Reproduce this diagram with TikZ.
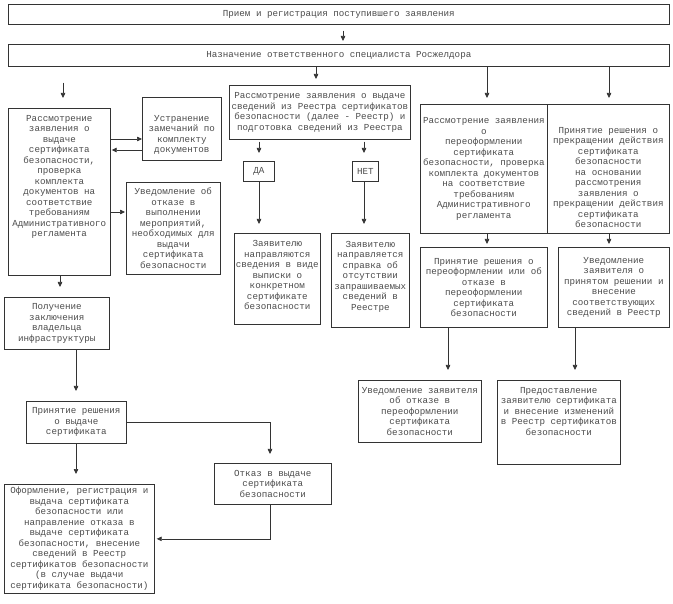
\documentclass[tikz,border=0pt]{standalone}
\usepackage{fontspec}
\setmainfont{Liberation Mono}
\usetikzlibrary{arrows.meta}
\begin{document}
\begin{tikzpicture}[x=1pt,y=-1pt,
  font=\fontsize{9.2}{10.5}\selectfont,
  box/.style={draw=black!80, line width=0.7pt, anchor=north west, align=center, inner sep=1pt, text=black!70},
  arr/.style={draw=black!80, line width=0.7pt, -{Triangle[width=4.5pt,length=5pt]}},
]
\path[use as bounding box, fill=white] (0,0) rectangle (673,604);

% x / y guide coordinates
\coordinate (xA) at (343,0);
\coordinate (xB) at (63,0);
\coordinate (xC) at (316,0);
\coordinate (xD) at (487,0);
\coordinate (xE) at (609,0);
\coordinate (xDa) at (259,0);
\coordinate (xNet) at (364,0);
\coordinate (xR2a) at (448,0);
\coordinate (xR2b) at (575,0);
\coordinate (xL1) at (60,0);
\coordinate (xL) at (76,0);
\coordinate (xK) at (270,0);
\coordinate (yF) at (0,139);
\coordinate (yG) at (0,150);
\coordinate (yH) at (0,212);

% boxes
\node[box, minimum width=661pt, minimum height=20pt] (b1) at (8,4) {Прием и регистрация поступившего заявления};
\node[box, minimum width=661pt, minimum height=22pt] (b2) at (8,44) {Назначение ответственного специалиста Росжелдора};

\node[box, minimum width=102pt, minimum height=167pt, text depth=32pt] (l1) at (8,108)
  {Рассмотрение\\заявления о\\выдаче\\сертификата\\безопасности,\\проверка\\комплекта\\документов на\\соответствие\\требованиям\\Административного\\регламента};
\node[box, minimum width=79pt, minimum height=63pt, text height=50pt] (ustr) at (142,97)
  {Устранение\\замечаний по\\комплекту\\документов};
\node[box, minimum width=94pt, minimum height=92pt] (uved) at (126,182)
  {Уведомление об\\отказе в\\выполнении\\мероприятий,\\необходимых для\\выдачи\\сертификата\\безопасности};

\node[box, minimum width=181pt, minimum height=54pt] (mid) at (229,85)
  {Рассмотрение заявления о выдаче\\сведений из Реестра сертификатов\\безопасности (далее - Реестр) и\\подготовка сведений из Реестра};
\node[box, minimum width=31pt, minimum height=20pt] (da) at (243,161) {ДА};
\node[box, minimum width=26pt, minimum height=20pt] (net) at (352,161) {НЕТ};
\node[box, minimum width=86pt, minimum height=91pt, text depth=7pt] (m1) at (234,233)
  {Заявителю\\направляются\\сведения в виде\\выписки о\\конкретном\\сертификате\\безопасности};
\node[box, minimum width=78pt, minimum height=94pt, text depth=9pt] (m2) at (331,233)
  {Заявителю\\направляется\\справка об\\отсутствии\\запрашиваемых\\сведений в\\Реестре};

\node[box, minimum width=127pt, minimum height=129pt] (r1a) at (420,104)
  {Рассмотрение заявления\\о\\переоформлении\\сертификата\\безопасности, проверка\\комплекта документов\\на соответствие\\требованиям\\Административного\\регламента};
\node[box, minimum width=122pt, minimum height=129pt, text height=118pt] (r1b) at (547,104)
  {Принятие решения о\\прекращении действия\\сертификата\\безопасности\\на основании\\рассмотрения\\заявления о\\прекращении действия\\сертификата\\безопасности};
\node[box, minimum width=127pt, minimum height=80pt] (r2a) at (420,247)
  {Принятие решения о\\переоформлении или об\\отказе в\\переоформлении\\сертификата\\безопасности};
\node[box, minimum width=111pt, minimum height=80pt] (r2b) at (558,247)
  {Уведомление\\заявителя о\\принятом решении и\\внесение\\соответствующих\\сведений в Реестр};
\node[box, minimum width=123pt, minimum height=62pt] (r3a) at (358,380)
  {Уведомление заявителя\\об отказе в\\переоформлении\\сертификата\\безопасности};
\node[box, minimum width=123pt, minimum height=84pt, text depth=22pt] (r3b) at (497,380)
  {Предоставление\\заявителю сертификата\\и внесение изменений\\в Реестр сертификатов\\безопасности};

\node[box, minimum width=105pt, minimum height=52pt] (pol) at (4,297)
  {Получение\\заключения\\владельца\\инфраструктуры};
\node[box, minimum width=100pt, minimum height=42pt] (prin) at (26,401)
  {Принятие решения\\о выдаче\\сертификата};
\node[box, minimum width=117pt, minimum height=41pt] (otk) at (214,463)
  {Отказ в выдаче\\сертификата\\безопасности};
\node[box, minimum width=150pt, minimum height=109pt] (fin) at (4,484)
  {Оформление, регистрация и\\выдача сертификата\\безопасности или\\направление отказа в\\выдаче сертификата\\безопасности, внесение\\сведений в Реестр\\сертификатов безопасности\\(в случае выдачи\\сертификата безопасности)};

% connectors
\draw[arr, shorten <=6pt, shorten >=3pt] (b1.south -| xA) -- (b2.north -| xA);
\draw[arr, shorten <=16pt, shorten >=10pt] (b2.south -| xB) -- (l1.north -| xB);
\draw[arr, shorten >=6pt] (b2.south -| xC) -- (mid.north -| xC);
\draw[arr, shorten >=6pt] (b2.south -| xD) -- (r1a.north -| xD);
\draw[arr, shorten >=6pt] (b2.south -| xE) -- (r1b.north -| xE);

\draw[arr] (l1.east |- yF) -- (ustr.west |- yF);
\draw[arr, shorten >=1pt] (ustr.west |- yG) -- (l1.east |- yG);
\draw[arr, shorten >=1pt] (l1.east |- yH) -- (uved.west |- yH);

\draw[arr, shorten <=2pt, shorten >=8pt] (mid.south -| xDa) -- (da.north -| xDa);
\draw[arr, shorten <=2pt, shorten >=8pt] (mid.south -| xNet) -- (net.north -| xNet);
\draw[arr, shorten >=9pt] (da.south -| xDa) -- (m1.north -| xDa);
\draw[arr, shorten >=9pt] (net.south -| xNet) -- (m2.north -| xNet);

\draw[arr, shorten >=3pt] (r1a.south -| xD) -- (r2a.north -| xD);
\draw[arr, shorten >=3pt] (r1b.south -| xE) -- (r2b.north -| xE);
\draw[arr, shorten >=10pt] (r2a.south -| xR2a) -- (r3a.north -| xR2a);
\draw[arr, shorten >=10pt] (r2b.south -| xR2b) -- (r3b.north -| xR2b);

\draw[arr, shorten >=10pt] (l1.south -| xL1) -- (pol.north -| xL1);
\draw[arr, shorten >=10pt] (pol.south -| xL) -- (prin.north -| xL);
\draw[arr, shorten >=9pt] (prin.east) -| (otk.north -| xK);
\draw[arr, shorten >=10pt] (prin.south -| xL) -- (fin.north -| xL);
\draw[arr, shorten >=2pt] (otk.south -| xK) |- (fin.east);
\end{tikzpicture}
\end{document}
